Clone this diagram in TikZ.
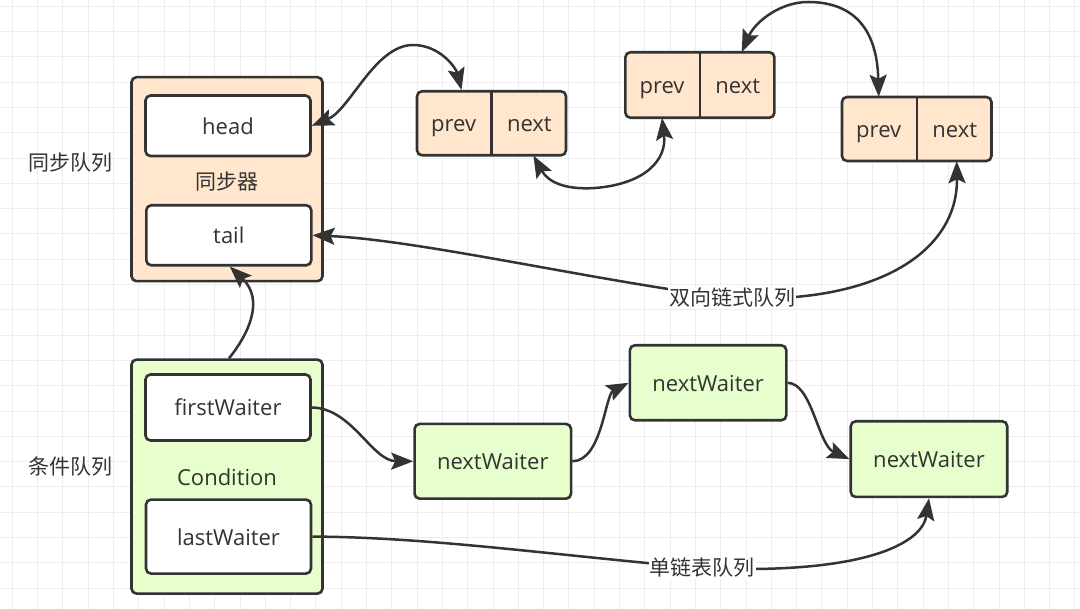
\documentclass[tikz,border=0pt]{standalone}
\usepackage{fontspec}
\setmainfont{Open Sans}
\newfontfamily\cjk{Noto Sans CJK SC}
\usetikzlibrary{arrows.meta,calc}
\definecolor{ink}{HTML}{333333}
\definecolor{orfill}{HTML}{FFE6CC}
\definecolor{grfill}{HTML}{E6FFCC}
\definecolor{gridc}{HTML}{EDEDED}
\pgfdeclarelayer{bg}
\pgfdeclarelayer{fg}
\pgfsetlayers{bg,main,fg}
\begin{document}
\begin{tikzpicture}[x=1pt,y=-1pt,
  latinfont/.style={font=\fontsize{22}{26}\selectfont, text height=17pt, text depth=0pt},
  box/.style={draw=ink, line width=2.6pt, rounded corners=5pt, inner sep=0pt, text=ink, latinfont},
  whitebox/.style={box, fill=white},
  orbox/.style={box, fill=orfill},
  grbox/.style={box, fill=grfill},
  cell/.style={inner sep=0pt, text=ink, latinfont},
  plain/.style={inner sep=0pt, text=ink, latinfont},
  cjklbl/.style={inner sep=0pt, text=ink, font=\cjk\fontsize{21}{25}\selectfont},
  edgelbl/.style={inner sep=1pt, fill=white, text=ink, font=\cjk\fontsize{21}{25}\selectfont},
  conn/.style={draw=ink, line width=2.5pt},
  onearrow/.style={-{Stealth[length=22pt,width=17pt,inset=4pt]}},
  twoarrow/.style={{Stealth[length=22pt,width=17pt,inset=4pt]}-{Stealth[length=22pt,width=17pt,inset=4pt]}},
  divider/.style={draw=ink, line width=2.6pt},
  gridline/.style={draw=gridc, line width=1pt}
]
\useasboundingbox (0,0) rectangle (1080,609);
\begin{pgfonlayer}{bg}
\fill[white] (0,0) rectangle (1080,609);
\foreach \k in {0,...,42} \draw[gridline] ({12.3+25.3*\k},0) -- ({12.3+25.3*\k},609);
\foreach \k in {0,...,23} \draw[gridline] (0,{6.3+25.3*\k}) -- (1080,{6.3+25.3*\k});
\end{pgfonlayer}

% synchronizer
\node[orbox, minimum width=191pt, minimum height=204pt] (sync) at (227,179.2) {};
\node[whitebox, minimum width=165pt, minimum height=60.5pt] (head) at (228,125.8) {head};
\node[whitebox, minimum width=165pt, minimum height=60pt] (tail) at (228.8,235.3) {tail};
\node[cjklbl] (synclbl) at (227,181.7) {同步器};

% condition
\node[grbox, minimum width=191pt, minimum height=234pt] (cond) at (227,476.6) {};
\node[whitebox, minimum width=165pt, minimum height=66pt] (first) at (228,407.5) {firstWaiter};
\node[plain] (condlbl) at (227,476.7) {Condition};
\node[whitebox, minimum width=165pt, minimum height=74pt] (last) at (228.5,536.6) {lastWaiter};

% side labels
\node[cjklbl] (q1) at (70,163) {同步队列};
\node[cjklbl] (q2) at (70,467) {条件队列};

% doubly linked nodes
\node[orbox, minimum width=149pt, minimum height=64pt] (n1) at (491.5,123.3) {};
\node[cell, minimum width=75.8pt, minimum height=64pt] (n1p) at (453.6,123.3) {prev};
\node[cell, minimum width=75.8pt, minimum height=64pt] (n1n) at (529.4,123.3) {next};
\draw[divider] (n1p.north east) -- (n1p.south east);

\node[orbox, minimum width=149pt, minimum height=65.5pt] (n2) at (699.9,85) {};
\node[cell, minimum width=75.8pt, minimum height=65.5pt] (n2p) at (662,85) {prev};
\node[cell, minimum width=75.8pt, minimum height=65.5pt] (n2n) at (737.8,85) {next};
\draw[divider] (n2p.north east) -- (n2p.south east);

\node[orbox, minimum width=149.5pt, minimum height=64pt] (n3) at (916.7,129) {};
\node[cell, minimum width=76pt, minimum height=64pt] (n3p) at (878.7,129) {prev};
\node[cell, minimum width=76pt, minimum height=64pt] (n3n) at (954.7,129) {next};
\draw[divider] (n3p.north east) -- (n3p.south east);

% waiter nodes
\node[grbox, minimum width=156.5pt, minimum height=74.7pt] (w1) at (492.8,461.3) {nextWaiter};
\node[grbox, minimum width=156.5pt, minimum height=75pt] (w2) at (708.1,382.8) {nextWaiter};
\node[grbox, minimum width=156.5pt, minimum height=75.7pt] (w3) at (929,459.1) {nextWaiter};

% edge labels
\begin{pgfonlayer}{fg}
\node[edgelbl] (d1) at (732,298) {双向链式队列};
\node[edgelbl] (d2) at (702,568) {单链表队列};
\end{pgfonlayer}

% connectors
\draw[conn,twoarrow] (head.east) .. controls (350,110) and (375,45) .. (413,45) .. controls (440,45) and (456,68) .. ([xshift=-30pt]n1.north);
\draw[conn,twoarrow] ([xshift=4pt]n1n.south) .. controls (548,182) and (565,190) .. (595,188) .. controls (645,184) and (667,160) .. (n2p.south);
\draw[conn,twoarrow] ([xshift=4pt]n2n.north) .. controls (755,22) and (780,2) .. (808,2) .. controls (850,2) and (877,25) .. (n3p.north);
\draw[conn,twoarrow] (tail.east) .. controls (420,240) and (600,282) .. (d1.center) .. controls (880,305) and (958,250) .. ([xshift=2pt]n3n.south);
\draw[conn,onearrow] ([xshift=2pt]cond.north) .. controls (248,335) and (265,300) .. ([xshift=1pt]tail.south);
\draw[conn,onearrow] (first.east) .. controls (352,408) and (372,461) .. (w1.west);
\draw[conn,onearrow] (w1.east) .. controls (602,461) and (605,395) .. (w2.west);
\draw[conn,onearrow] (w2.east) .. controls (812,383) and (818,445) .. (w3.west);
\draw[conn,onearrow] (last.east) .. controls (430,537) and (560,556) .. (d2.center) .. controls (860,575) and (922,545) .. (w3.south);
\end{tikzpicture}
\end{document}
